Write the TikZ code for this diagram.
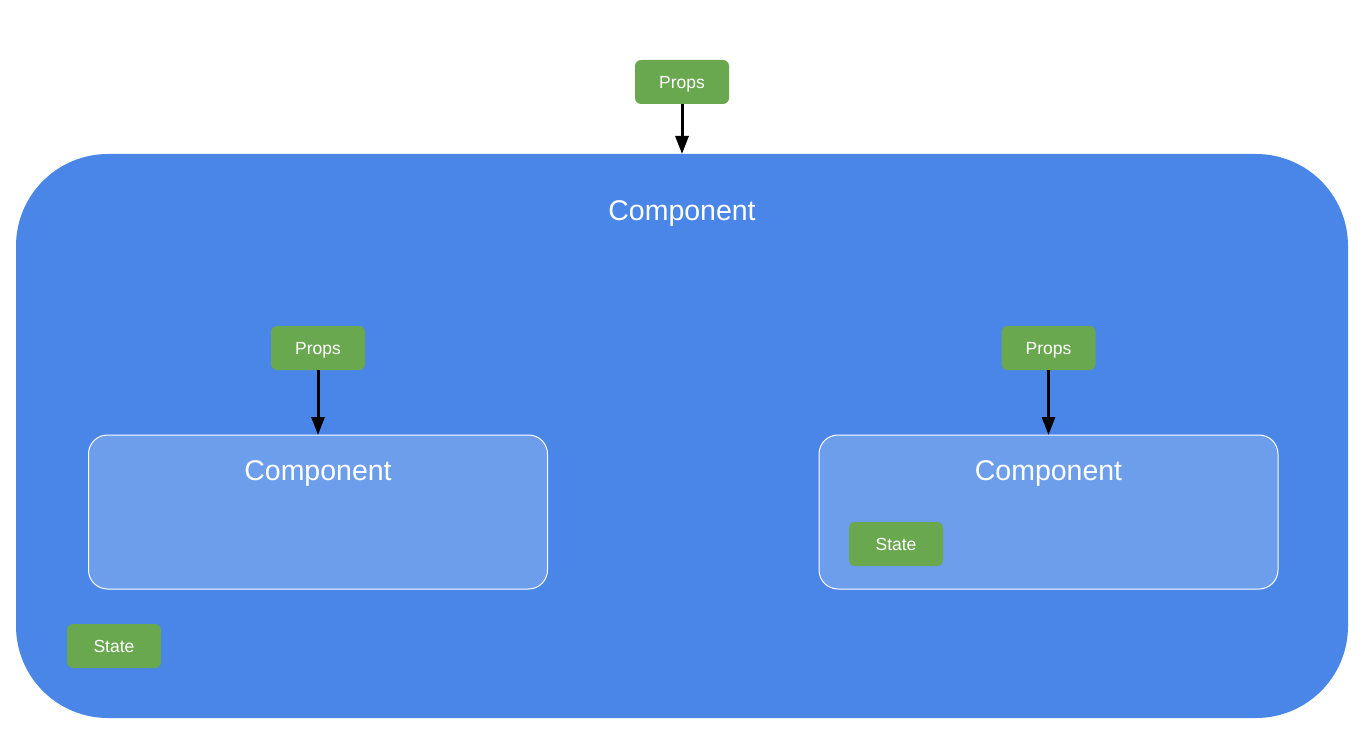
\documentclass[tikz,border=0pt]{standalone}
\usepackage{fontspec}
\setmainfont{Liberation Sans}
\usetikzlibrary{arrows.meta}
\definecolor{outerblue}{HTML}{4A86E8}
\definecolor{innerblue}{HTML}{6D9EEB}
\definecolor{propgreen}{HTML}{6AA84F}
\begin{document}
\begin{tikzpicture}[x=1pt,y=1pt,
  outerbox/.style={fill=outerblue,rounded corners=92pt,minimum width=1332pt,minimum height=564pt,inner sep=0pt,outer sep=0pt},
  innerbox/.style={fill=innerblue,draw=white,line width=1pt,rounded corners=19pt,minimum width=459pt,minimum height=154pt,inner sep=0pt,outer sep=0pt},
  tag/.style={fill=propgreen,rounded corners=6pt,minimum width=94pt,minimum height=44pt,inner sep=0pt,outer sep=0pt,text=white,text depth=0pt,font=\fontsize{17.5}{20}\selectfont},
  title/.style={text=white,text depth=0pt,font=\fontsize{28.5}{32}\selectfont,inner sep=0pt},
  flow/.style={-{Triangle[width=13pt,length=18pt]},line width=3pt,black}]
\useasboundingbox (0,0) rectangle (1362,-730);
% outer component
\node[outerbox] (outer) at (682,-436) {};
\node[title] (outertitle) at (682,-210.5) {Component};
\node[tag] (propstop) at (682,-82) {Props};
\draw[flow] (propstop.south) -- (outer.north);
% left child
\node[innerbox] (left) at (318,-512) {};
\node[title] (lefttitle) at (318,-470.5) {Component};
\node[tag] (propsleft) at (318,-348) {Props};
\draw[flow] (propsleft.south) -- (left.north);
% right child
\node[innerbox] (right) at (1048.5,-512) {};
\node[title] (righttitle) at (1048.5,-470.5) {Component};
\node[tag] (propsright) at (1048.5,-348) {Props};
\draw[flow] (propsright.south) -- (right.north);
\node[tag] (stateright) at (896,-544) {State};
% state of outer
\node[tag] (stateouter) at (114,-646) {State};
\end{tikzpicture}
\end{document}
